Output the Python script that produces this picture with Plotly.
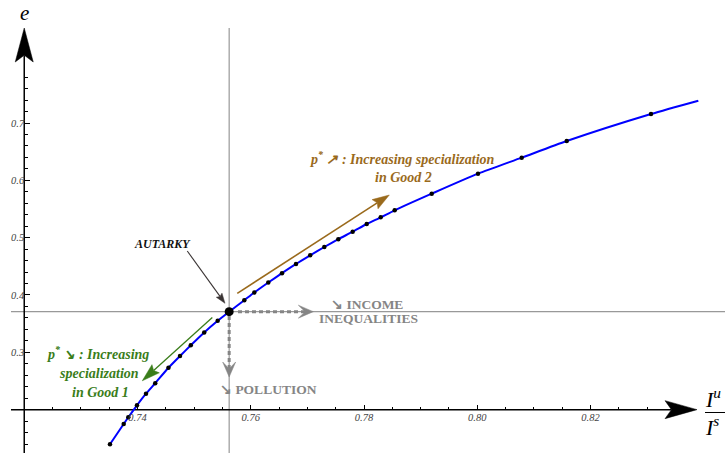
import math
import plotly.graph_objects as go

W, H = 725, 453
X_RANGE = [0.71572, 0.84375]
Y_RANGE = [0.12438, 0.91455]

# ---- data: sampled points on the curve (I^u/I^s, e) ----
curve_x = [0.73514, 0.73756, 0.73838, 0.73991, 0.74150, 0.74313, 0.74547, 0.74751,
           0.74941, 0.75178, 0.75416, 0.75619, 0.75886, 0.76063, 0.76310, 0.76552,
           0.76799, 0.77050, 0.77299, 0.77546, 0.77800, 0.78048, 0.78295, 0.78542,
           0.79196, 0.80013, 0.80785, 0.81580, 0.83068]
curve_e = [0.1396, 0.1750, 0.1867, 0.2076, 0.2278, 0.2461, 0.2730, 0.2936,
           0.3122, 0.3346, 0.3550, 0.3709, 0.3909, 0.4043, 0.4218, 0.4380,
           0.4541, 0.4692, 0.4837, 0.4973, 0.5104, 0.5238, 0.5355, 0.5477,
           0.5767, 0.6116, 0.6395, 0.6686, 0.7157]
curve_end_x = [0.83904]
curve_end_e = [0.7389]

autarky_x = [0.75619]
autarky_e = [0.3709]

# ---- axes ----
axis_origin_x = 0.72
axis_origin_e = 0.2
x_axis_start = 0.71766
x_axis_tip = 0.83881
y_axis_tip = 0.8657
x_major_ticks = [0.74, 0.76, 0.78, 0.80, 0.82]
x_major_labels = ["0.74", "0.76", "0.78", "0.80", "0.82"]
x_minor_ticks = [0.725, 0.73, 0.735, 0.745, 0.75, 0.755, 0.765, 0.77, 0.775,
                 0.785, 0.79, 0.795, 0.805, 0.81, 0.815, 0.825, 0.83, 0.835]
y_major_ticks = [0.3, 0.4, 0.5, 0.6, 0.7]
y_major_labels = ["0.3", "0.4", "0.5", "0.6", "0.7"]
y_minor_ticks = [0.14, 0.16, 0.18, 0.22, 0.24, 0.26, 0.28, 0.32, 0.34, 0.36, 0.38,
                 0.42, 0.44, 0.46, 0.48, 0.52, 0.54, 0.56, 0.58, 0.62, 0.64, 0.66,
                 0.68, 0.72, 0.74, 0.76, 0.78]

# ---- annotation arrows (start, tip) ----
brown_arrow = [(0.75762, 0.40295), (0.78447, 0.57441)]
green_arrow = [(0.75321, 0.36074), (0.74085, 0.25033)]
autarky_arrow = [(0.74879, 0.47673), (0.75545, 0.38551)]
income_arrow = [(0.75775, 0.3709), (0.77105, 0.3709)]
pollution_arrow = [(0.75619, 0.36336), (0.75619, 0.25696)]

BROWN = "#9a6a1c"
GREEN = "#3a7d1a"
GRAY = "#858585"
FONT = "Liberation Serif"

sx = W / (X_RANGE[1] - X_RANGE[0])
sy = H / (Y_RANGE[1] - Y_RANGE[0])

shapes = []


def arrow(start, tip, color, width, L, Wd, notch, dash=None, layer="above"):
    (x0, y0), (x1, y1) = start, tip
    dx = (x1 - x0) * sx
    dy = (y1 - y0) * sy
    n = math.hypot(dx, dy)
    ux, uy = dx / n, dy / n
    px, py = -uy, ux
    back = L * (1 - notch)
    ex = x1 - back * ux / sx
    ey = y1 - back * uy / sy
    ln = dict(color=color, width=width)
    if dash:
        ln["dash"] = dash
    shapes.append(dict(type="line", xref="x", yref="y", x0=x0, y0=y0, x1=ex, y1=ey,
                       line=ln, layer=layer))
    pts = [(0, 0),
           (-L * ux + Wd / 2 * px, -L * uy + Wd / 2 * py),
           (-back * ux, -back * uy),
           (-L * ux - Wd / 2 * px, -L * uy - Wd / 2 * py)]
    path = "M" + " L".join(f"{a:.2f},{b:.2f}" for a, b in pts) + " Z"
    shapes.append(dict(type="path", xref="x", yref="y", xsizemode="pixel",
                       ysizemode="pixel", xanchor=x1, yanchor=y1, path=path,
                       fillcolor=color, line=dict(color=color, width=0.5), layer=layer))


# reference lines through autarky
shapes.append(dict(type="line", xref="x", yref="y", x0=autarky_x[0], x1=autarky_x[0],
                   y0=Y_RANGE[0], y1=y_axis_tip, line=dict(color="#999999", width=1.2),
                   layer="below"))
shapes.append(dict(type="line", xref="x", yref="y", x0=x_axis_start, x1=X_RANGE[1],
                   y0=autarky_e[0], y1=autarky_e[0], line=dict(color="#999999", width=1.2),
                   layer="below"))

# axes with big arrowheads
arrow((x_axis_start, axis_origin_e), (x_axis_tip, axis_origin_e), "black", 1.5, 32, 18, 0.2,
      layer="below")
arrow((axis_origin_x, Y_RANGE[0]), (axis_origin_x, y_axis_tip), "black", 1.5, 34, 18, 0.2,
      layer="below")

# annotation arrows
arrow(*brown_arrow, BROWN, 1.6, 17, 11, 0.15)
arrow(*green_arrow, GREEN, 1.3, 18, 11, 0.15)
arrow(*autarky_arrow, "#3a3434", 1.1, 10, 7, 0.15)
arrow(*income_arrow, GRAY, 3, 15, 13, 0.45, dash="4px,3px")
arrow(*pollution_arrow, GRAY, 3, 15, 13, 0.45, dash="4px,3px")

# fraction bar of x label
shapes.append(dict(type="line", xref="paper", yref="paper", x0=705 / W, x1=1.0,
                   y0=1 - 412.5 / H, y1=1 - 412.5 / H, line=dict(color="black", width=1)))

fig = go.Figure()
fig.add_trace(go.Scatter(x=curve_x + curve_end_x, y=curve_e + curve_end_e, mode="lines",
                         line=dict(color="#0000ff", width=2, shape="spline", smoothing=0.6),
                         hoverinfo="skip", showlegend=False))
fig.add_trace(go.Scatter(x=curve_x, y=curve_e, mode="markers",
                         marker=dict(color="black", size=4.5), showlegend=False))
fig.add_trace(go.Scatter(x=autarky_x, y=autarky_e, mode="markers",
                         marker=dict(color="black", size=9), showlegend=False))

annotations = []


def text(x, y, s, size, color, bold=True, italic=True, xref="x", yref="y", xanchor="center"):
    annotations.append(dict(x=x, y=y, xref=xref, yref=yref, text=s, showarrow=False,
                            xanchor=xanchor, yanchor="middle",
                            font=dict(family=FONT, size=size, color=color,
                                      weight="bold" if bold else "normal",
                                      style="italic" if italic else "normal")))


text(0.74450, 0.48894, "AUTARKY", 12, "#111111")
text(0.78671, 0.63982, "p<sup>*</sup> ↗ : Increasing specialization", 14, BROWN)
text(0.78689, 0.60494, "in Good 2", 14, BROWN)
text(0.73302, 0.29881, "p<sup>*</sup> ↘ : Increasing", 14, GREEN)
text(0.73315, 0.26393, "specialization", 14, GREEN)
text(0.73338, 0.23079, "in Good 1", 14, GREEN)
text(0.78053, 0.38354, "↘ INCOME", 13.5, GRAY, italic=False)
text(0.78071, 0.35974, "INEQUALITIES", 13.5, GRAY, italic=False)
text(0.76322, 0.23602, "↘ POLLUTION", 13.5, GRAY, italic=False)
text(24 / W, 1 - 13 / H, "e", 21, "black", bold=False, xref="paper", yref="paper")
text(703 / W, 1 - 398 / H, "I<sup>u</sup>", 22, "black", bold=False, xref="paper",
     yref="paper", xanchor="left")
text(703 / W, 1 - 426 / H, "I<sup>s</sup>", 22, "black", bold=False, xref="paper",
     yref="paper", xanchor="left")

x_pos = (axis_origin_e - Y_RANGE[0]) / (Y_RANGE[1] - Y_RANGE[0])
y_pos = (axis_origin_x - X_RANGE[0]) / (X_RANGE[1] - X_RANGE[0])
tickfont = dict(family=FONT, size=10.5, color="#444444", style="italic")

fig.update_layout(
    width=W, height=H, margin=dict(l=0, r=0, t=0, b=0),
    paper_bgcolor="white", plot_bgcolor="white",
    shapes=shapes, annotations=annotations, showlegend=False,
    xaxis=dict(range=X_RANGE, anchor="free", position=x_pos, showgrid=False,
               zeroline=False, showline=False, ticks="inside", ticklen=5, tickwidth=1,
               tickcolor="black", tickmode="array", tickvals=x_major_ticks,
               ticktext=x_major_labels, tickfont=tickfont,
               minor=dict(tickmode="array", tickvals=x_minor_ticks, ticks="inside",
                          ticklen=3, tickwidth=1, tickcolor="black", showgrid=False)),
    yaxis=dict(range=Y_RANGE, anchor="free", position=y_pos, showgrid=False,
               zeroline=False, showline=False, ticks="inside", ticklen=5, tickwidth=1,
               tickcolor="black", tickmode="array", tickvals=y_major_ticks,
               ticktext=y_major_labels, tickfont=tickfont,
               minor=dict(tickmode="array", tickvals=y_minor_ticks, ticks="inside",
                          ticklen=3, tickwidth=1, tickcolor="black", showgrid=False)),
)

fig.write_html("out.html", config={"displayModeBar": False},
               post_script="document.body.style.margin='0';document.body.style.overflow='hidden';")
